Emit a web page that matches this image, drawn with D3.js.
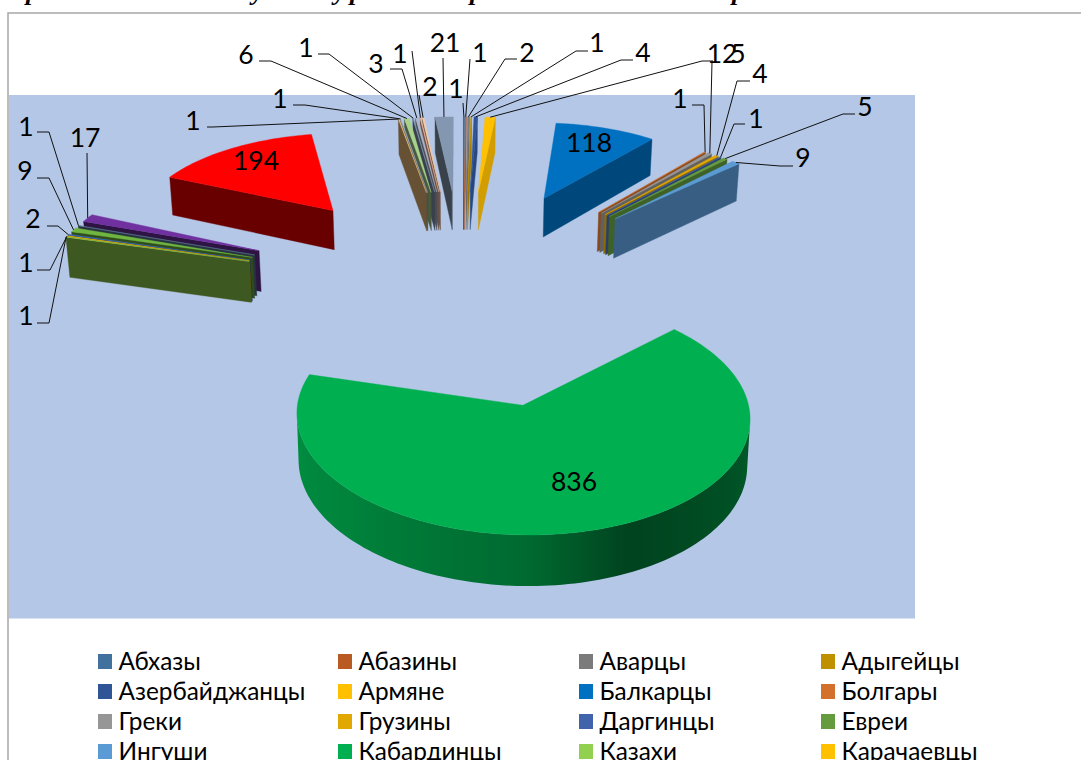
<!DOCTYPE html>
<html>
<head>
<meta charset="utf-8">
<script src="https://cdn.jsdelivr.net/npm/d3@7"></script>
<style>
html,body{margin:0;padding:0;background:#fff;overflow:hidden}
svg{display:block}
text{font-family:Lato,"Open Sans","Noto Sans",sans-serif;fill:#000}
</style>
</head>
<body>
<svg id="chart" width="1081" height="760"></svg>
<script>
// Nationalities, clockwise from twelve o'clock
const values = [1,1,2,1,4,12,118,1,5,4,1,5,9,836,1,1,2,9,1,17,194,1,1,6,1,3,1,2,21];
const colors = ["#41719C","#B85A22","#7B7B7B","#BF9000","#2F5597","#FFC000","#0070C0","#D2702C","#969696","#E0A800",
  "#4163AC","#639B3E","#5B9BD5","#00B050","#92D050","#FFC000","#3A6DB0","#70B540","#5F7F9A","#7030A0","#FF0000",
  "#F0BE7A","#9DB0C8","#A9D18E","#8497B0","#A9B5C9","#F4B6A0","#F6CBA4","#8497B0"];
const legendNames = ["Абхазы","Абазины","Аварцы","Адыгейцы","Азербайджанцы","Армяне","Балкарцы","Болгары",
  "Греки","Грузины","Даргинцы","Евреи","Ингуши","Кабардинцы","Казахи","Карачаевцы"];

// Callout placement for each slice: label centre and leader elbow (null = label sits on the slice)
const callouts = [
  {l:[456,88],k:[[463,103]]},{l:[480,52],k:[[470,59]]},{l:[527,52],k:[[505,59],[517,59]]},
  {l:[597,42],k:[[576,51],[588,51]]},{l:[643,52],k:[[621,60],[633,60]]},{l:[722,53],k:[[702,61],[713,61]]},
  {l:[589,142],k:null},
  {l:[680,98],k:[[704,105],[692,105]]},{l:[738,53],k:[[712,62]]},{l:[760,73],k:[[737,81],[750,81]]},
  {l:[756,118],k:[[734,124],[745,124]]},{l:[865,106],k:[[843,114],[855,114]]},{l:[803,157],k:[[780,166],[793,166]]},
  {l:[574,481],k:null},
  {l:[26,315],k:[[49,323],[37,323]]},{l:[26,262],k:[[50,270],[37,270]]},{l:[33,218],k:[[58,226],[47,226]]},
  {l:[25,170],k:[[49,178],[37,178]]},{l:[26,126],k:[[49,132],[37,132]]},{l:[85,137],k:[[87,153]]},
  {l:[256,160],k:null},
  {l:[193,120],k:[[213,127],[207,127]]},{l:[280,98],k:[[305,105],[293,105]]},{l:[246,54],k:[[271,61],[259,61]]},
  {l:[306,47],k:[[329,54],[318,54]]},{l:[376,63],k:[[402,69],[390,69]]},{l:[400,53],k:[[412,51]]},
  {l:[430,86],k:[[419,95]]},{l:[445,42],k:[[443,58]]}
];

const svg = d3.select("#chart");
const defs = svg.append("defs");

// Page fragment above the chart: only the descenders of the heading line fall inside the page
svg.append("g").selectAll("text")
  .data([["р",26],["у",252],["у",334],["р",350],["р",470],["р",732]])
  .join("text").attr("x",d=>d[1]).attr("y",0).text(d=>d[0])
  .style("font-family","'Liberation Serif',serif").style("font-style","italic")
  .style("font-weight","bold").style("font-size","26px");

// Chart frame and plot area
svg.append("path").attr("d","M8,760V13H1081").attr("fill","none").attr("stroke","#A6A6A6").attr("stroke-width",1.5);
svg.append("rect").attr("x",9).attr("y",95).attr("width",906).attr("height",523.5).attr("fill","#B4C7E7");

// Perspective camera for the tilted, exploded pie
const cam = {cx:463, cy:289.7, s0:228, perspFar:0.1, perspNear:0.093, tilt:0.475, depth:0.185, squeeze:0.99, radius:0.9};
function project(x,y,lower){
  const s = cam.s0/(1-(y<0?cam.perspFar:cam.perspNear)*y);
  return lower
    ? [cam.cx + x*s*cam.squeeze, cam.cy + cam.tilt*y*s + cam.depth*s]
    : [cam.cx + x*s, cam.cy + cam.tilt*y*s];
}

// Lighting: brightness of a wall by the compass angle of its outward normal
const flatLight = d3.scaleLinear().domain([90,135,200,270]).range([.85,.62,.41,.43]).clamp(true);
const rimLight  = d3.scaleLinear().domain([100,156,180,230,285]).range([.5,.38,.6,.75,.83]).clamp(true);
const shade = (c,f)=>{const r=d3.rgb(c);return d3.rgb(r.r*f,r.g*f,r.b*f).formatHex();};
const deg = a=>a*180/Math.PI;
const line = d3.line().curve(d3.curveLinearClosed);
const cross = (a,b,c)=>(b[0]-a[0])*(c[1]-a[1])-(b[1]-a[1])*(c[0]-a[0]);

const slices = d3.pie().sort(null)(values).map((d,i)=>{
  const mid=(d.startAngle+d.endAngle)/2;
  return {...d,i,mid,ax:Math.sin(mid),ay:-Math.cos(mid),color:colors[i]};
});
const rimPoint=(d,a)=>[d.ax+cam.radius*Math.sin(a), d.ay-cam.radius*Math.cos(a)];

const pieG = svg.append("g");
function wallPath(g,pts,fill){
  g.append("path").attr("d",line(pts)).attr("fill",fill).attr("stroke",fill).attr("stroke-width",.4).attr("stroke-linejoin","round");
}

// Farthest slices first, so nearer ones paint over them
slices.slice().sort((a,b)=>a.ay-b.ay).forEach(d=>{
  const g=pieG.append("g");
  const at=project(d.ax,d.ay,false), ab=project(d.ax,d.ay,true);
  const sweep=d.endAngle-d.startAngle;
  const n=Math.max(2,Math.ceil(deg(sweep)/1.5));
  const angles=d3.range(n+1).map(j=>d.startAngle+sweep*j/n);

  // curved outer wall: one polygon over the part facing the viewer, lit by a horizontal gradient
  const front=angles.filter(a=>{
    const p=rimPoint(d,a),e=.01,q=rimPoint(d,a+e);
    return cross(project(p[0],p[1],false),project(q[0],q[1],false),project(q[0],q[1],true))<0;
  });
  if(front.length>1){
    const upper=front.map(a=>{const p=rimPoint(d,a);return project(p[0],p[1],false);});
    const lower=front.map(a=>{const p=rimPoint(d,a);return project(p[0],p[1],true);});
    const xs=upper.concat(lower).map(p=>p[0]);
    const [x0,x1]=d3.extent(xs);
    const id="rim"+d.i;
    const grad=defs.append("linearGradient").attr("id",id).attr("gradientUnits","userSpaceOnUse")
      .attr("x1",x0).attr("x2",x1).attr("y1",0).attr("y2",0);
    // keep only the lower, front half of the arc for the stops so they run monotonically in x
    front.map((a,j)=>({a,x:lower[j][0]})).sort((p,q)=>p.x-q.x).forEach(p=>{
      grad.append("stop").attr("offset",(p.x-x0)/(x1-x0)).attr("stop-color",shade(d.color,rimLight(deg(p.a))));
    });
    g.append("path").attr("d",line(upper.concat(lower.reverse()))).attr("fill",`url(#${id})`);
  }

  // straight radial walls, culled when they face away from the viewer
  const s0=rimPoint(d,d.startAngle), s1=rimPoint(d,d.endAngle);
  const st=project(s0[0],s0[1],false), sb=project(s0[0],s0[1],true);
  const et=project(s1[0],s1[1],false), eb=project(s1[0],s1[1],true);
  if(cross(at,st,ab)<0) wallPath(g,[at,st,sb,ab],shade(d.color,flatLight((deg(d.startAngle)+270)%360)));
  if(cross(at,et,ab)>0) wallPath(g,[at,et,eb,ab],shade(d.color,flatLight((deg(d.endAngle)+90)%360)));

  // top face
  const top=[at].concat(angles.map(a=>{const p=rimPoint(d,a);return project(p[0],p[1],false);}));
  wallPath(g,top,d.color);
});

// Leader lines from the middle of each slice's rim to its label
const leaders=svg.append("g").attr("fill","none").attr("stroke","#111").attr("stroke-width",1);
slices.forEach(d=>{
  const c=callouts[d.i];
  if(!c.k) return;
  const p=rimPoint(d,d.mid);
  leaders.append("path").attr("d",d3.line()([project(p[0],p[1],false),...c.k]));
});

svg.append("g").selectAll("text").data(slices).join("text")
  .attr("x",d=>callouts[d.i].l[0]).attr("y",d=>callouts[d.i].l[1])
  .attr("text-anchor","middle").attr("dominant-baseline","central")
  .style("font-size","26.5px").text(d=>d.value);

// Legend, four columns
const colX=d3.scaleOrdinal().domain([0,1,2,3]).range([98,338,579,821]);
const rowY=d3.scaleLinear().domain([0,1]).range([654,684]);
const legend=svg.append("g").selectAll("g").data(legendNames).join("g")
  .attr("transform",(d,i)=>`translate(${colX(i%4)},${rowY(Math.floor(i/4))})`);
legend.append("rect").attr("width",14).attr("height",15).attr("fill",(d,i)=>colors[i]);
legend.append("text").attr("x",20.5).attr("y",15.5).style("font-size","24.4px").text(d=>d);
</script>
</body>
</html>
